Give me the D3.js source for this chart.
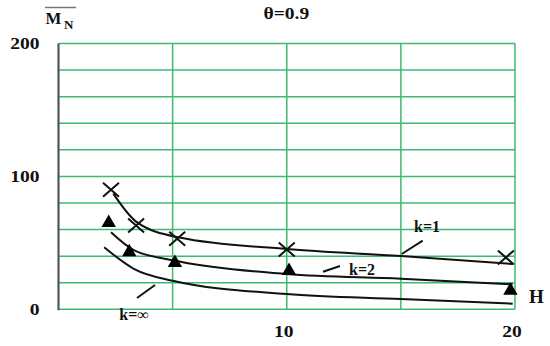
<!DOCTYPE html>
<html>
<head>
<meta charset="utf-8">
<script src="https://cdn.jsdelivr.net/npm/d3@7"></script>
<style>
  body { margin: 0; background: #fff; }
</style>
</head>
<body>
<div id="main"></div>
<script>
// tick labels and grid
const xTickLabels = [10, 20];
const xGrid = [0, 5, 10, 15, 20];
const yTickLabels = [0, 100, 200];
const yGrid = d3.range(0, 201, 20);

// markers
const hK1 = [2.3, 3.4, 5.2, 10, 19.6];
const mK1 = [90, 63, 53, 45, 39];
const hK2 = [2.2, 3.1, 5.1, 10.1, 19.8];
const mK2 = [65, 43, 35, 29, 14];

// fitted curves
const curveHK1 = [2.4, 3.4, 5.3, 10, 15, 19.9];
const curveK1 = [87, 66, 54, 45.4, 40.1, 34.1];
const curveHK2 = [2.3, 3.3, 5.3, 10, 15, 19.9];
const curveK2 = [58, 44.6, 36, 26.6, 23, 18.8];
const curveHKinf = [2.0, 3.3, 5, 10, 15, 19.9];
const curveKinf = [46.7, 30.5, 21.5, 11.5, 7.7, 4.2];

const W = 550, H = 346;
const green = "#3dba6f";
const serif = "'Liberation Serif', 'Times New Roman', Times, serif";

const svg = d3.select("#main").append("svg")
  .attr("width", W).attr("height", H);

// bold serif text, a little wider than normal like the scanned original
function label(g, tx, ty, size, txt, anchor, sx) {
  return g.append("text")
    .attr("transform", `translate(${tx},${ty}) scale(${sx || 1.15},1)`)
    .attr("text-anchor", anchor || "start")
    .attr("font-family", serif)
    .attr("font-weight", "bold")
    .attr("fill", "#111")
    .style("font-size", size + "px")
    .text(txt);
}

const x = d3.scaleLinear().domain([0, 20]).range([58.5, 515]);
const y = d3.scaleLinear().domain([0, 200]).range([309.3, 43.5]);

// grid
svg.append("g").selectAll("line")
  .data(yGrid)
  .join("line")
  .attr("x1", x(0)).attr("x2", x(20))
  .attr("y1", d => y(d)).attr("y2", d => y(d))
  .attr("stroke", green).attr("stroke-width", 1.5);

svg.append("g").selectAll("line")
  .data(xGrid.slice(1))
  .join("line")
  .attr("x1", d => x(d)).attr("x2", d => x(d))
  .attr("y1", y(0)).attr("y2", y(200))
  .attr("stroke", green).attr("stroke-width", 1.5);

// left axis
svg.append("line")
  .attr("x1", x(0)).attr("x2", x(0))
  .attr("y1", y(0) + 1).attr("y2", y(200))
  .attr("stroke", "#555").attr("stroke-width", 2.2);

// tick labels
yTickLabels.forEach(d => label(svg, 39.5, y(d) + 5.8, 17, d, "end"));
xTickLabels.forEach(d => label(svg, x(d) - 3, 337, 17, d, "middle"));

// axis titles
label(svg, 529, 303, 19, "H", "start", 1.0);
label(svg, 45.5, 24.3, 16, "M", "start", 1.05);
label(svg, 64, 29, 13, "N", "start", 1.0);
svg.append("line")
  .attr("x1", 45).attr("x2", 76).attr("y1", 7.5).attr("y2", 7.5)
  .attr("stroke", "#777").attr("stroke-width", 1.5);

label(svg, 286.3, 19.3, 17, "θ=0.9", "middle");

// curves
const line = d3.line()
  .x(d => x(d[0]))
  .y(d => y(d[1]))
  .curve(d3.curveMonotoneX);

[[curveHK1, curveK1], [curveHK2, curveK2], [curveHKinf, curveKinf]].forEach(([hs, ms]) => {
  svg.append("path")
    .datum(d3.zip(hs, ms))
    .attr("d", line)
    .attr("fill", "none")
    .attr("stroke", "#111")
    .attr("stroke-width", 2);
});

// crosses (k=1)
svg.append("g").selectAll("path")
  .data(d3.zip(hK1, mK1))
  .join("path")
  .attr("d", d => {
    const cx = x(d[0]), cy = y(d[1]);
    return `M${cx - 8},${cy - 7}L${cx + 8},${cy + 7}M${cx - 8},${cy + 7}L${cx + 8},${cy - 7}`;
  })
  .attr("stroke", "#111")
  .attr("stroke-width", 2);

// triangles (k=2)
svg.append("g").selectAll("path")
  .data(d3.zip(hK2, mK2))
  .join("path")
  .attr("transform", d => `translate(${x(d[0])},${y(d[1])})`)
  .attr("d", d3.symbol(d3.symbolTriangle, 90))
  .attr("fill", "#000");

// curve labels with leader lines
const curveLabels = [
  { t: "k=1", tx: 427, ty: 231.5, l: [422.7, 240.7, 401.7, 254] },
  { t: "k=2", tx: 362, ty: 275, l: [323, 271.7, 340, 266] },
  { t: "k=∞", tx: 134, ty: 320, l: [137, 298, 155, 285] }
];
curveLabels.forEach(o => {
  label(svg, o.tx, o.ty, 16, o.t, "middle", 1.0);
  svg.append("line")
    .attr("x1", o.l[0]).attr("y1", o.l[1])
    .attr("x2", o.l[2]).attr("y2", o.l[3])
    .attr("stroke", "#111").attr("stroke-width", 2);
});
</script>
</body>
</html>
